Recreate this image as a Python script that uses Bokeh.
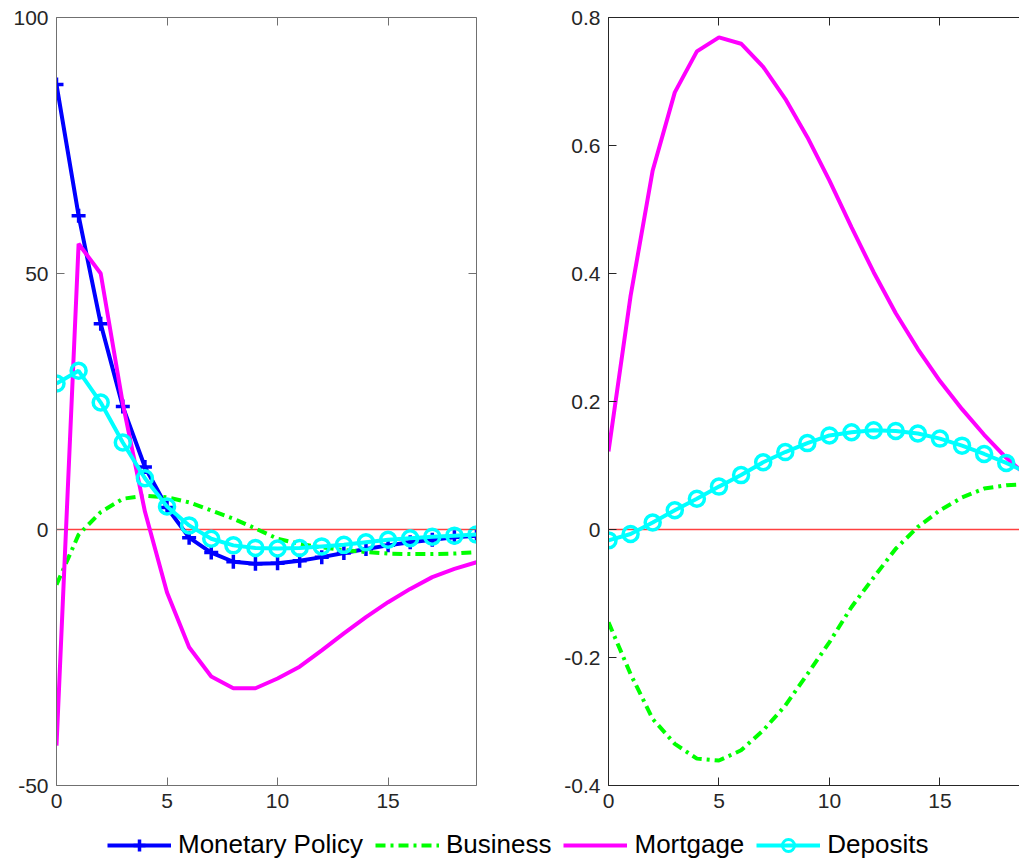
from bokeh.plotting import figure
from bokeh.models import (Range1d, LinearAxis, FixedTicker, Legend, LegendItem,
                          CustomJSTickFormatter)
from bokeh.layouts import column, row
from bokeh.embed import file_html
from bokeh.resources import INLINE

# ---------------- data ----------------
steps = list(range(20))

left_policy = [86.9, 61.3, 40.2, 24.0, 12.2, 4.3, -1.6, -4.5, -6.3, -6.7,
               -6.6, -6.1, -5.4, -4.6, -3.8, -3.1, -2.5, -2.0, -1.5, -1.2]
left_business = [-10.8, -1.0, 3.4, 6.0, 6.6, 6.3, 5.3, 3.7, 2.1, 0.2,
                 -1.8, -2.8, -3.5, -4.0, -4.4, -4.7, -4.8, -4.8, -4.7, -4.4]
left_mortgage = [-42.2, 55.8, 50.0, 24.6, 3.5, -12.3, -23.0, -28.7, -31.0, -31.0,
                 -29.1, -26.8, -23.6, -20.3, -17.1, -14.2, -11.6, -9.3, -7.7, -6.4]
left_deposits = [28.5, 31.0, 24.8, 17.0, 10.0, 4.5, 0.8, -1.8, -3.1, -3.6,
                 -3.7, -3.6, -3.3, -3.0, -2.5, -2.0, -1.7, -1.4, -1.2, -1.0]

right_business = [-0.145, -0.226, -0.296, -0.335, -0.358, -0.361, -0.345, -0.314, -0.275, -0.226,
                  -0.176, -0.121, -0.075, -0.030, 0.004, 0.030, 0.050, 0.064, 0.069, 0.071]
right_mortgage = [0.122, 0.365, 0.561, 0.683, 0.747, 0.769, 0.759, 0.723, 0.673, 0.613,
                  0.545, 0.472, 0.402, 0.338, 0.282, 0.232, 0.188, 0.148, 0.112, 0.082]
right_deposits = [-0.017, -0.007, 0.011, 0.030, 0.048, 0.067, 0.085, 0.105, 0.121, 0.135,
                  0.147, 0.152, 0.155, 0.154, 0.150, 0.142, 0.131, 0.118, 0.104, 0.088]

zero_level = [0]

x_ticks = [0, 5, 10, 15]
left_y_ticks = [-50, 0, 50, 100]
left_y_labels = ["-50", "0", "50", "100"]
right_y_ticks = [-0.4, -0.2, 0, 0.2, 0.4, 0.6, 0.8]
right_y_labels = ["-0.4", "-0.2", "0", "0.2", "0.4", "0.6", "0.8"]

labels = ["Monetary Policy", "Business", "Mortgage", "Deposits"]

BLUE, GREEN, MAGENTA, CYAN = "#0000ff", "#00ff00", "#ff00ff", "#00ffff"
ZERO_RED = "#ff4040"
FONT = "Liberation Sans"
DASHDOT = "10 5 3 5"


def style_axis(ax, color, show_labels):
    ax.axis_line_color = color
    ax.axis_line_width = 1
    ax.major_tick_line_color = color
    ax.major_tick_line_width = 1
    ax.major_tick_in = 8
    ax.major_tick_out = 0
    ax.minor_tick_line_color = None
    ax.major_label_text_font = FONT
    ax.major_label_text_color = "#262626"
    if show_labels:
        ax.major_label_text_font_size = "21px"
        ax.major_label_standoff = 8
    else:
        ax.formatter = CustomJSTickFormatter(code="return ''")
        ax.major_label_text_font_size = "1px"
        ax.major_label_standoff = 0


def make_panel(width, x_end, y_rng, yticks, ylabels, bl, br, color, right_axis):
    p = figure(width=width, height=817, x_range=Range1d(0, x_end),
               y_range=Range1d(*y_rng), output_backend="svg",
               toolbar_location=None, x_axis_location=None, y_axis_location=None,
               min_border_left=bl, min_border_right=br, min_border_top=17,
               min_border_bottom=32)
    p.outline_line_color = None
    p.xgrid.visible = False
    p.ygrid.visible = False
    p.background_fill_color = "white"
    p.border_fill_color = "white"

    p.hspan(y=zero_level, line_color=ZERO_RED, line_width=1.3)

    xb = LinearAxis(ticker=FixedTicker(ticks=x_ticks),
                    major_label_overrides={t: str(t) for t in x_ticks})
    style_axis(xb, color, True)
    p.add_layout(xb, "below")
    xa = LinearAxis(ticker=FixedTicker(ticks=x_ticks))
    style_axis(xa, color, False)
    p.add_layout(xa, "above")

    yl = LinearAxis(ticker=FixedTicker(ticks=yticks),
                    major_label_overrides=dict(zip(yticks, ylabels)))
    style_axis(yl, color, True)
    p.add_layout(yl, "left")
    if right_axis:
        yr = LinearAxis(ticker=FixedTicker(ticks=yticks))
        style_axis(yr, color, False)
        p.add_layout(yr, "right")
    return p


# ---------------- left panel ----------------
p1 = make_panel(556, 19, (-50, 100), left_y_ticks, left_y_labels, 56, 80, "#707070", True)
p1.line(steps, left_policy, line_color=BLUE, line_width=4)
p1.scatter(steps, left_policy, marker="cross", size=14, line_color=BLUE, line_width=3.5)
p1.line(steps, left_business, line_color=GREEN, line_width=4, line_dash=DASHDOT)
p1.line(steps, left_mortgage, line_color=MAGENTA, line_width=4)
p1.line(steps, left_deposits, line_color=CYAN, line_width=4)
p1.scatter(steps, left_deposits, marker="circle", size=15, line_color=CYAN,
           line_width=3.5, fill_color=None)

# ---------------- right panel ----------------
p2 = make_panel(463, 18.6, (-0.4, 0.8), right_y_ticks, right_y_labels, 52, 0, "#262626", False)
p2.line(steps, right_business, line_color=GREEN, line_width=4, line_dash=DASHDOT)
p2.line(steps, right_mortgage, line_color=MAGENTA, line_width=4)
p2.line(steps, right_deposits, line_color=CYAN, line_width=4)
p2.scatter(steps, right_deposits, marker="circle", size=15, line_color=CYAN,
           line_width=3.5, fill_color=None)

# ---------------- legend (series drawn out of view, only the legend shows) ----------------
lf = figure(width=1019, height=45, x_range=Range1d(-100, -99), y_range=Range1d(-100, -99),
            output_backend="svg", toolbar_location=None,
            x_axis_location=None, y_axis_location=None,
            min_border_left=0, min_border_right=0, min_border_top=0, min_border_bottom=0)
lf.outline_line_color = None
lf.xgrid.visible = False
lf.ygrid.visible = False

r_pol = lf.line(steps, left_policy, line_color=BLUE, line_width=4)
r_polm = lf.scatter(steps, left_policy, marker="cross", size=14, line_color=BLUE, line_width=3.5)
r_bus = lf.line(steps, left_business, line_color=GREEN, line_width=4, line_dash=DASHDOT)
r_mor = lf.line(steps, left_mortgage, line_color=MAGENTA, line_width=4)
r_dep = lf.line(steps, left_deposits, line_color=CYAN, line_width=4)
r_depm = lf.scatter(steps, left_deposits, marker="circle", size=12, line_color=CYAN,
                    line_width=3, fill_color=None)

legend = Legend(items=[LegendItem(label=labels[0], renderers=[r_pol, r_polm]),
                       LegendItem(label=labels[1], renderers=[r_bus]),
                       LegendItem(label=labels[2], renderers=[r_mor]),
                       LegendItem(label=labels[3], renderers=[r_dep, r_depm])],
                orientation="horizontal", location=(107, 2),
                glyph_width=64, glyph_height=30, label_height=30,
                label_standoff=7, spacing=12, padding=0, margin=0,
                border_line_color=None, background_fill_alpha=0,
                label_text_font=FONT, label_text_font_size="26px",
                label_text_color="black")
lf.add_layout(legend, "center")

layout = column(row(p1, p2), lf)

open("out.html", "w").write(file_html(layout, INLINE))
